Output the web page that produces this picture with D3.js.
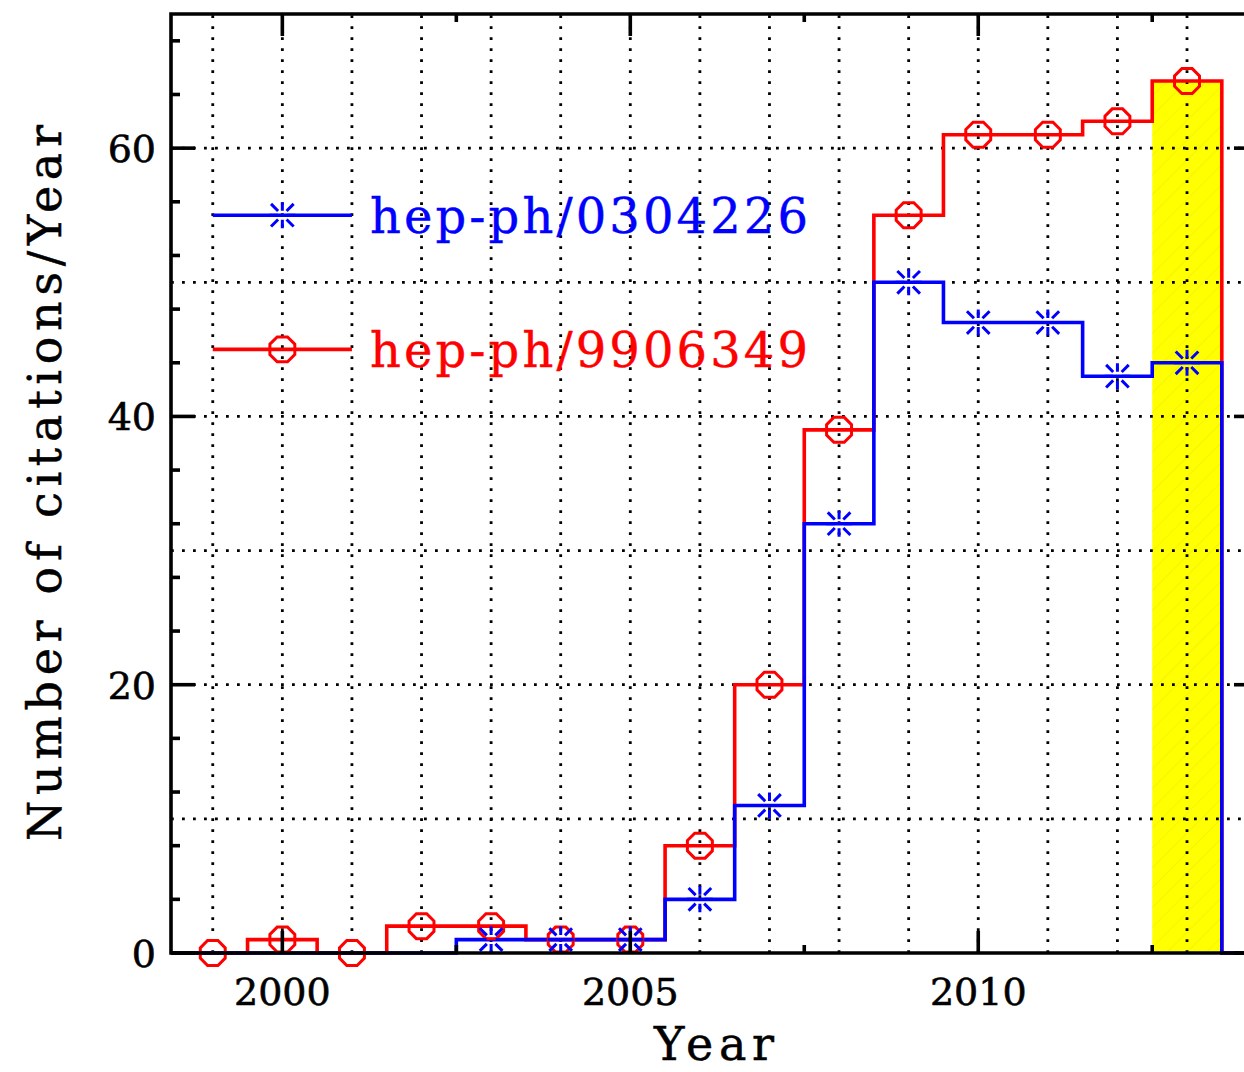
<html>
<head>
  <title>Citations per year</title>
  <script src="https://d3js.org/d3.v7.min.js"></script>
  <style>
  body { margin: 0; background: #fff; }
  text { font-family: "DejaVu Serif", serif; }
  </style>
</head>
<body>
  <script>

// citations per year
var years = [1999, 2000, 2001, 2002, 2003, 2004, 2005, 2006, 2007, 2008, 2009, 2010, 2011, 2012, 2013];
var counts9906349 = [0, 1, 0, 2, 2, 1, 1, 8, 20, 39, 55, 61, 61, 62, 65];
var years0304226 = [2003, 2004, 2005, 2006, 2007, 2008, 2009, 2010, 2011, 2012, 2013];
var counts0304226 = [1, 1, 1, 4, 11, 32, 50, 47, 47, 43, 44];
var xTickLabels = [2000, 2005, 2010];
var yTickLabels = [0, 20, 40, 60];
var highlightYear = 2013;

var width = 1244,
    height = 1072;

var pLeft = 171, pTop = 14, pRight = 1258, pBottom = 953;

var svg = d3.select('body')
  .append('svg')
  .attr('width', width)
  .attr('height', height);

var x = d3.scaleLinear()
  .domain([1998.4, 2014.02])
  .range([pLeft, pRight]);

var y = d3.scaleLinear()
  .domain([0, 70])
  .range([pBottom, pTop]);

// yellow hatch for the current year
var pat = svg.append('defs').append('pattern')
  .attr('id', 'hatch')
  .attr('patternUnits', 'userSpaceOnUse')
  .attr('width', 14).attr('height', 14)
  .attr('patternTransform', 'rotate(45)');
pat.append('rect').attr('width', 14).attr('height', 14).attr('fill', '#ffff00');
pat.append('line').attr('x1', 0).attr('y1', 0).attr('x2', 0).attr('y2', 14)
  .attr('stroke', '#f5f500').attr('stroke-width', 2);

var hi = years.indexOf(highlightYear);
svg.append('rect')
  .attr('x', x(highlightYear - 0.5))
  .attr('y', y(counts9906349[hi]))
  .attr('width', x(highlightYear + 0.5) - x(highlightYear - 0.5))
  .attr('height', y(0) - y(counts9906349[hi]))
  .attr('fill', 'url(#hatch)');

// dotted grid
var grid = svg.append('g')
  .attr('stroke', '#000')
  .attr('stroke-width', 2.8)
  .attr('stroke-dasharray', '2.8,8.2');

grid.selectAll('line.v')
  .data(years)
  .enter()
  .append('line')
  .attr('x1', function(d) { return x(d); })
  .attr('x2', function(d) { return x(d); })
  .attr('y1', pBottom)
  .attr('y2', pTop);

grid.selectAll('line.h')
  .data(d3.range(10, 70, 10))
  .enter()
  .append('line')
  .attr('x1', pLeft)
  .attr('x2', pRight)
  .attr('y1', function(d) { return y(d); })
  .attr('y2', function(d) { return y(d); });

// step histograms
function steps(yrs, vals) {
  var pts = [[x.domain()[0], 0]];
  yrs.forEach(function(yr, i) { pts.push([yr - 0.5, vals[i]]); });
  pts.push([yrs[yrs.length - 1] + 0.5, 0]);
  pts.push([x.domain()[1], 0]);
  return pts;
}

var line = d3.line()
  .x(function(d) { return x(d[0]); })
  .y(function(d) { return y(d[1]); })
  .curve(d3.curveStepAfter);

svg.append('path')
  .attr('d', line(steps(years, counts9906349)))
  .attr('fill', 'none')
  .attr('stroke', '#ff0000')
  .attr('stroke-width', 3.6);

svg.append('path')
  .attr('d', line(steps(years0304226, counts0304226)))
  .attr('fill', 'none')
  .attr('stroke', '#0000ff')
  .attr('stroke-width', 3.6);

// markers
var octagon = d3.range(8).map(function(k) {
  var a = (22.5 + k * 45) * Math.PI / 180;
  return [13.5 * Math.cos(a), 13.5 * Math.sin(a)];
});
var octPath = 'M' + octagon.join('L') + 'Z';

var starPath = d3.range(8).map(function(k) {
  var a = k * 45 * Math.PI / 180;
  var r0 = k % 2 ? 6 : 4.5, r1 = k % 2 ? 16 : 13;
  return 'M' + (r0 * Math.cos(a)) + ',' + (r0 * Math.sin(a)) +
         'L' + (r1 * Math.cos(a)) + ',' + (r1 * Math.sin(a));
}).join('');

function circles(g, xs, ys) {
  g.selectAll('path')
    .data(xs)
    .enter()
    .append('path')
    .attr('transform', function(d, i) { return 'translate(' + x(d) + ',' + y(ys[i]) + ')'; })
    .attr('d', octPath)
    .attr('fill', 'none')
    .attr('stroke', '#ff0000')
    .attr('stroke-width', 3);
}

function stars(g, xs, ys) {
  g.selectAll('path')
    .data(xs)
    .enter()
    .append('path')
    .attr('transform', function(d, i) { return 'translate(' + x(d) + ',' + y(ys[i]) + ')'; })
    .attr('d', starPath)
    .attr('fill', 'none')
    .attr('stroke', '#0000ff')
    .attr('stroke-width', 3);
}

circles(svg.append('g'), years, counts9906349);
stars(svg.append('g'), years0304226, counts0304226);

// frame + ticks
var axes = svg.append('g').attr('stroke', '#000').attr('stroke-width', 3.6);

axes.append('path')
  .attr('d', 'M' + pRight + ',' + pTop + 'H' + pLeft + 'V' + pBottom + 'H' + pRight)
  .attr('fill', 'none')
  .attr('stroke-linecap', 'square');

var xMinor = [2002.5, 2007.5, 2012.5];
xTickLabels.forEach(function(d) {
  axes.append('line').attr('x1', x(d)).attr('x2', x(d)).attr('y1', pBottom).attr('y2', pBottom - 22);
  axes.append('line').attr('x1', x(d)).attr('x2', x(d)).attr('y1', pTop).attr('y2', pTop + 22);
});
xMinor.forEach(function(d) {
  axes.append('line').attr('x1', x(d)).attr('x2', x(d)).attr('y1', pBottom).attr('y2', pBottom - 8);
  axes.append('line').attr('x1', x(d)).attr('x2', x(d)).attr('y1', pTop).attr('y2', pTop + 8);
});
d3.range(0, 71, 4).forEach(function(d) {
  var len = d % 20 === 0 ? 24 : 9;
  axes.append('line').attr('x1', pLeft).attr('x2', pLeft + len).attr('y1', y(d)).attr('y2', y(d));
  axes.append('line').attr('x1', pRight).attr('x2', pRight - len).attr('y1', y(d)).attr('y2', y(d));
});

// tick labels
svg.append('g').selectAll('text')
  .data(xTickLabels)
  .enter()
  .append('text')
  .attr('x', function(d) { return x(d); })
  .attr('y', 1005)
  .attr('text-anchor', 'middle')
  .attr('font-size', 38)
  .attr('stroke', '#000').attr('stroke-width', 0.6)
  .text(function(d) { return d; });

svg.append('g').selectAll('text')
  .data(yTickLabels)
  .enter()
  .append('text')
  .attr('x', 156)
  .attr('y', function(d) { return y(d) + 14; })
  .attr('text-anchor', 'end')
  .attr('font-size', 38)
  .attr('stroke', '#000').attr('stroke-width', 0.6)
  .text(function(d) { return d; });

// axis titles
svg.append('text')
  .attr('x', 714)
  .attr('y', 1060)
  .attr('text-anchor', 'middle')
  .attr('font-size', 46)
  .attr('textLength', 120)
  .attr('lengthAdjust', 'spacing')
  .attr('stroke', '#000').attr('stroke-width', 0.5)
  .text('Year');

svg.append('text')
  .attr('transform', 'translate(61,483) rotate(-90)')
  .attr('text-anchor', 'middle')
  .attr('font-size', 46)
  .attr('textLength', 716)
  .attr('lengthAdjust', 'spacing')
  .attr('stroke', '#000').attr('stroke-width', 0.5)
  .text('Number of citations/Year');

// legend
var legend = [
  {name: 'hep-ph/0304226', color: '#0000ff', at: 55, mark: stars},
  {name: 'hep-ph/9906349', color: '#ff0000', at: 45, mark: circles}
];
legend.forEach(function(l) {
  var g = svg.append('g');
  g.append('line')
    .attr('x1', x(1999)).attr('x2', x(2001))
    .attr('y1', y(l.at)).attr('y2', y(l.at))
    .attr('stroke', l.color).attr('stroke-width', 3.6);
  l.mark(g.append('g'), [2000], [l.at]);
  g.append('text')
    .attr('x', 370)
    .attr('y', y(l.at) + 18)
    .attr('font-size', 48)
    .attr('textLength', 438)
    .attr('lengthAdjust', 'spacing')
    .attr('fill', l.color)
    .attr('stroke', l.color).attr('stroke-width', 0.4)
    .text(l.name);
});

  </script>
</body>
</html>
